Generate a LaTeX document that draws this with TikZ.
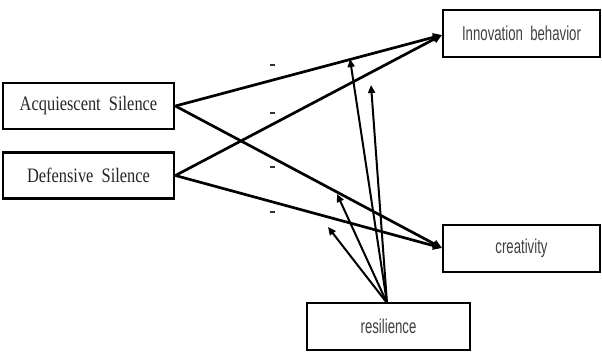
\documentclass[tikz,border=0pt]{standalone}
\usepackage{fontspec}
\newfontfamily\serifc{Liberation Serif}[FakeStretch=0.8]
\newfontfamily\sansc{Liberation Sans}[FakeStretch=0.66]
\usetikzlibrary{arrows.meta}
\begin{document}
\begin{tikzpicture}[x=1pt,y=-1pt,
  box/.style={draw=black,line width=2.8pt,fill=white,inner sep=0pt,text=black!85},
  lbox/.style={box,minimum width=171pt,minimum height=46pt,font=\serifc\fontsize{20.5}{24}\selectfont},
  rbox/.style={box,minimum height=47pt,font=\sansc\fontsize{20}{24}\selectfont,text=black!75},
  mainarrow/.style={line width=2.7pt,-{Triangle[length=9pt,width=8pt]}},
  resarrow/.style={line width=2pt,-{Triangle[length=8pt,width=7pt]}},
  sign/.style={inner sep=0pt,text=black!80}]
\useasboundingbox (0,0) rectangle (602,351);
\node[lbox] (acq) at (88.5,106) {Acquiescent\ \ Silence};
\node[lbox] (def) at (88.5,175.5) {Defensive\ \ Silence};
\node[rbox,minimum width=157pt] (inn) at (521.5,33.5) {Innovation\ \ behavior};
\node[rbox,minimum width=157pt] (cre) at (521.5,248.5) {creativity};
\node[rbox,minimum width=163pt] (res) at (388.5,326.5) {resilience};
\coordinate (ia) at (442,35);
\coordinate (ca) at (442,248);
\coordinate (rs) at (387,303);
\coordinate (r1) at (350,59);
\coordinate (r2) at (371,85);
\coordinate (r3) at (337,194);
\coordinate (r4) at (328,227);
\draw[mainarrow] (acq.east) -- (ia);
\draw[mainarrow] (acq.east) -- (ca);
\draw[mainarrow] (def.east) -- (ia);
\draw[mainarrow] (def.east) -- (ca);
\draw[resarrow] (rs) -- (r1);
\draw[resarrow] (rs) -- (r2);
\draw[resarrow] (rs) -- (r3);
\draw[resarrow] (rs) -- (r4);
\node[sign] (s1) at (272,65) {\rule{5pt}{1.6pt}};
\node[sign] (s2) at (272,113) {\rule{5pt}{1.6pt}};
\node[sign] (s3) at (272,167) {\rule{5pt}{1.6pt}};
\node[sign] (s4) at (272,212) {\rule{5pt}{1.6pt}};
\end{tikzpicture}
\end{document}
